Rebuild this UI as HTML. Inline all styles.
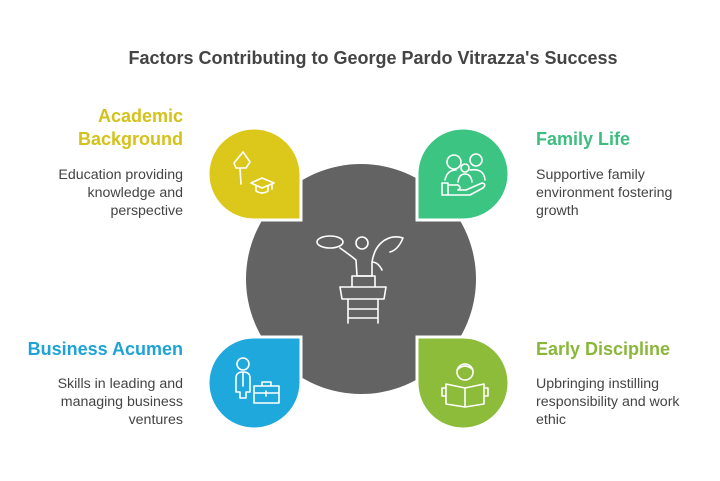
<!DOCTYPE html>
<html><head><meta charset="utf-8"><style>
body{margin:0;background:#fff;}
svg{display:block;font-family:"Liberation Sans",Arial,sans-serif;}
</style></head><body>
<svg width="720" height="481" viewBox="0 0 720 481" xmlns="http://www.w3.org/2000/svg">
<rect width="720" height="481" fill="#fff"/>
<text x="373" y="64" text-anchor="middle" font-size="18" font-weight="bold" fill="#444">Factors Contributing to George Pardo Vitrazza's Success</text>
<circle cx="361" cy="279" r="115" fill="#636363"/>
<g stroke="#fff" stroke-width="3">
<path d="M301,220 H254 A46,46 0 0 1 208,174 A46,46 0 0 1 254,128 A47,47 0 0 1 301,174 Z" fill="#DCC81A"/>
<path d="M417,220 H463 A46,46 0 0 0 509,174 A46,46 0 0 0 463,128 A46,46 0 0 0 417,174 Z" fill="#3CC483"/>
<path d="M301,337 H254 A46,46 0 0 0 208,383 A46,46 0 0 0 254,429 A47,47 0 0 0 301,383 Z" fill="#1EA8DC"/>
<path d="M417,337 H463 A46,46 0 0 1 509,383 A46,46 0 0 1 463,429 A46,46 0 0 1 417,383 Z" fill="#8DBB3A"/>
</g>
<g fill="none" stroke="#fff" stroke-width="1.6" stroke-linecap="round" stroke-linejoin="round">
<path d="M243,152 L250,162 L246,168 L236,168 L234,163 L243,152 M240,168 L241,184"/>
<path d="M251,183 L262,178 L274,183 L262,188 Z M256,186 V191 Q262,195 268,191 V186 M272,184 V189"/>
<circle cx="454" cy="162" r="7"/><circle cx="476" cy="160" r="6"/><circle cx="465" cy="168" r="4"/>
<path d="M445,180 Q447,170 456,170 M470,170 Q484,168 485,180 M458,182 Q459,174 465,174 Q471,174 472,182"/>
<path d="M442,183 H448 V195 H442 Z M448,185 H458 Q462,188 458,190 H466 L482,183 Q487,184 483,188 L470,195 H448"/>
<ellipse cx="330" cy="242" rx="13" ry="6"/><circle cx="362" cy="243" r="6"/>
<path d="M340,248 Q350,255 356,260 L357,276 H372 L372,262 Q374,250 380,244 Q390,234 403,238 Q398,250 390,252 M372,262 Q378,262 382,270"/>
<path d="M352,276 H375 V287 H352 Z M340,287 H386 L384,299 H342 Z M348,299 V323 M378,299 V323 M348,309 H378 M348,318 H378"/>
<circle cx="243" cy="364" r="6"/><path d="M236,392 V378 Q236,372 243,372 Q250,372 250,378 V392 H246 V398 H240 V392 Z M243,372 V386"/>
<path d="M254,386 H279 V403 H254 Z M262,386 V382 H271 V386 M254,393 H279 M266,391 V396"/>
<circle cx="465" cy="372" r="8"/><path d="M457,370 Q465,362 473,370"/>
<path d="M446,384 L465,388 L484,384 V404 L465,407 L446,404 Z M465,388 V407 M446,388 H442 V396 H446 M484,388 H488 V396 H484"/>
</g>
<g font-size="18" font-weight="bold">
<text x="183" y="122" text-anchor="end" fill="#D4C21A">Academic</text>
<text x="183" y="145" text-anchor="end" fill="#D4C21A">Background</text>
<text x="536" y="145" fill="#3DBE80">Family Life</text>
<text x="183" y="355" text-anchor="end" fill="#1EA3D6">Business Acumen</text>
<text x="536" y="355" fill="#8AB73A">Early Discipline</text>
</g>
<g font-size="14.2" fill="#444">
<text x="183" y="179" text-anchor="end">Education providing</text>
<text x="183" y="197" text-anchor="end">knowledge and</text>
<text x="183" y="215" text-anchor="end">perspective</text>
<text x="536" y="179">Supportive family</text>
<text x="536" y="197">environment fostering</text>
<text x="536" y="215">growth</text>
<text x="183" y="388" text-anchor="end">Skills in leading and</text>
<text x="183" y="406" text-anchor="end">managing business</text>
<text x="183" y="424" text-anchor="end">ventures</text>
<text x="536" y="388">Upbringing instilling</text>
<text x="536" y="406">responsibility and work</text>
<text x="536" y="424">ethic</text>
</g>
</svg>
</body></html>
